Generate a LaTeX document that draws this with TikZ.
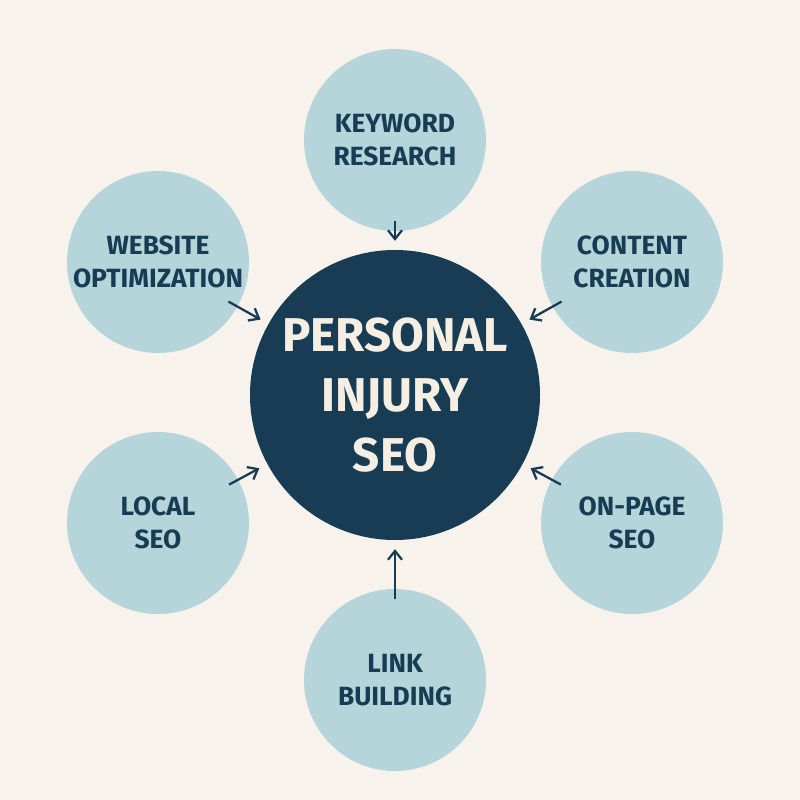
\documentclass[tikz,border=0pt]{standalone}
\usepackage{fontspec}
\setmainfont{Fira Sans}
\usetikzlibrary{arrows.meta}
\definecolor{bgcol}{HTML}{F7F3EC}
\definecolor{lightblue}{HTML}{B5D5DA}
\definecolor{navy}{HTML}{173C53}
\definecolor{cream}{HTML}{F5EEE3}
\begin{document}
\begin{tikzpicture}[x=0.02cm,y=-0.02cm]
  \tikzset{topic/.style={circle,fill=lightblue,minimum size=182*0.02cm,inner sep=0pt,
      align=center,text=navy,font=\fontsize{15}{19}\selectfont\bfseries},
    hub/.style={circle,fill=navy,minimum size=290*0.02cm,inner sep=0pt,
      align=center,text=cream,font=\fontsize{27}{34}\selectfont\bfseries},
    feed/.style={-{Straight Barb[length=5pt,width=8pt]},navy,line width=1.3pt,
      shorten <=-6pt,shorten >=5pt}}
  \fill[bgcol] (0,0) rectangle (800,800);
  \node[hub] (seo) at (395,395) {PERSONAL\\INJURY\\SEO};
  \node[topic] (kw) at (395,140) {KEYWORD\\RESEARCH};
  \node[topic] (cc) at (632,262) {CONTENT\\CREATION};
  \node[topic] (op) at (632,523) {ON-PAGE\\SEO};
  \node[topic] (lb) at (395,680) {LINK\\BUILDING};
  \node[topic] (ls) at (158,523) {LOCAL\\SEO};
  \node[topic] (wo) at (158,262) {WEBSITE\\OPTIMIZATION};
  \foreach \n in {kw,cc,op,lb,ls,wo}
    \draw[feed] (\n) -- (seo);
\end{tikzpicture}
\end{document}
